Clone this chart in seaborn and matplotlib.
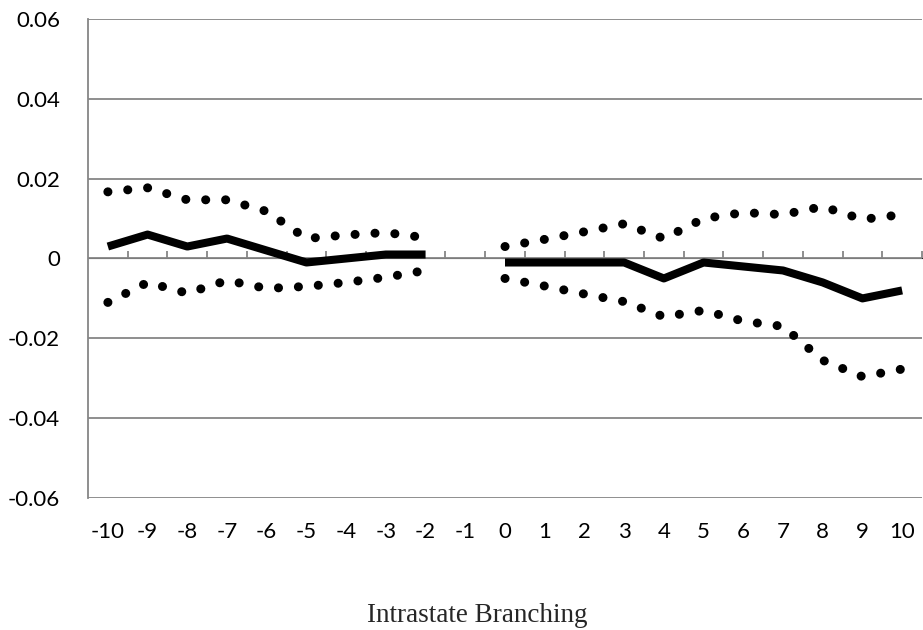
import numpy as np
import pandas as pd
import matplotlib
matplotlib.use("Agg")
import matplotlib.pyplot as plt
import seaborn as sns

# event time (years relative to intrastate branching deregulation)
event_time = list(range(-10, 11))

estimate = [0.003, 0.006, 0.003, 0.005, 0.002, -0.001, 0.0, 0.001, 0.001, np.nan,
            -0.001, -0.001, -0.001, -0.001, -0.005, -0.001, -0.002, -0.003, -0.006, -0.010, -0.008]
lower = [-0.011, -0.006, -0.0087, -0.0055, -0.0075, -0.007, -0.006, -0.0047, -0.003, np.nan,
         -0.005, -0.0069, -0.0089, -0.0108, -0.0146, -0.013, -0.0157, -0.017, -0.0255, -0.0296, -0.0277]
upper = [0.0167, 0.0177, 0.0147, 0.0147, 0.0118, 0.005, 0.0059, 0.0065, 0.0052, np.nan,
         0.003, 0.0048, 0.0067, 0.0087, 0.005, 0.010, 0.0115, 0.011, 0.013, 0.0098, 0.011]

df = pd.DataFrame({"t": event_time, "estimate": estimate, "lower": lower, "upper": upper})
df["segment"] = np.where(df["t"] < -1, "pre", "post")
df = df.dropna()

sns.set_style("white")
plt.rcParams["font.family"] = ["Lato", "DejaVu Sans"]

fig = plt.figure(figsize=(9.23, 6.3), dpi=100)
ax = fig.add_axes([88 / 923, 1 - 498 / 630, (922 - 88) / 923, (498 - 19) / 630])

grid_col = "#868686"

# confidence bands as round-dotted lines
for col in ["upper", "lower"]:
    sns.lineplot(data=df, x="t", y=col, units="segment", estimator=None, ax=ax,
                 color="black", linewidth=6.5, linestyle=(0, (0.01, 2.2)),
                 dash_capstyle="round", zorder=3)

sns.lineplot(data=df, x="t", y="estimate", units="segment", estimator=None, ax=ax,
             color="black", linewidth=5.8, solid_capstyle="butt", zorder=4)

ax.set_xlim(-10.5, 10.5)
ax.set_ylim(-0.06, 0.06)
ax.set_yticks(np.arange(-0.06, 0.061, 0.02))
ax.set_yticklabels(["-0.06", "-0.04", "-0.02", "0", "0.02", "0.04", "0.06"])
ax.set_xticks(event_time)
ax.set_xticklabels([str(t) for t in event_time])

ax.yaxis.grid(True, color=grid_col, linewidth=1.3)
ax.set_axisbelow(True)
for s in ["top", "right", "bottom"]:
    ax.spines[s].set_visible(False)
ax.spines["left"].set_color(grid_col)
ax.spines["left"].set_linewidth(1.3)

ax.tick_params(axis="y", length=5, width=1.3, color=grid_col, pad=15, labelsize=16, labelcolor="black")
ax.tick_params(axis="x", length=0, pad=17, labelsize=16, labelcolor="black")

# category axis crossing at zero, with ticks between categories
sec = ax.secondary_xaxis(0.5)
sec.spines["bottom"].set_color(grid_col)
sec.spines["bottom"].set_linewidth(1.3)
sec.set_xticks(np.arange(-9.5, 10.6, 1.0))
sec.set_xticklabels([])
sec.tick_params(axis="x", length=5, width=1.3, color=grid_col, direction="out")

ax.set_xlabel("")
ax.set_ylabel("")
fig.text(477 / 923, 1 - 622 / 630, "Intrastate Branching", ha="center", va="baseline",
         family=["Liberation Serif", "DejaVu Serif"], fontsize=19.5)

fig.savefig("out.png", dpi=100)
